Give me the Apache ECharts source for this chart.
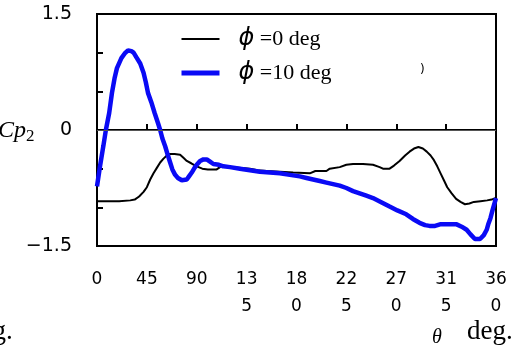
<!DOCTYPE html>
<html>
<head>
<meta charset="utf-8">
<script src="https://cdn.jsdelivr.net/npm/echarts@6/dist/echarts.min.js"></script>
<style>
  html, body { margin: 0; padding: 0; background: #fff; }
  #chart { width: 523px; height: 350px; }
</style>
</head>
<body>
<div id="chart"></div>
<script>
// phi = 0 deg
const theta0 = [0, 10, 20, 30, 34, 38, 42, 45, 48, 51, 54, 57, 60, 63, 66, 70, 75, 78, 81, 85, 90, 95, 100, 108, 111, 120, 130, 138, 145, 153, 165, 177, 192, 197, 207, 210, 219, 225, 231, 240, 249, 255, 258, 264, 268, 273, 278, 282, 286, 290, 294, 297.5, 301, 304, 307, 310, 313, 316, 320, 324, 328, 332, 336, 340, 346, 352, 356, 360];
const cp0 = [-0.92, -0.92, -0.92, -0.91, -0.90, -0.86, -0.80, -0.74, -0.64, -0.56, -0.49, -0.42, -0.37, -0.33, -0.31, -0.31, -0.32, -0.36, -0.40, -0.43, -0.47, -0.50, -0.51, -0.51, -0.48, -0.48, -0.49, -0.50, -0.52, -0.53, -0.54, -0.55, -0.56, -0.53, -0.53, -0.50, -0.48, -0.45, -0.44, -0.44, -0.45, -0.48, -0.50, -0.50, -0.46, -0.40, -0.33, -0.28, -0.24, -0.22, -0.24, -0.28, -0.33, -0.39, -0.47, -0.56, -0.65, -0.74, -0.82, -0.89, -0.93, -0.96, -0.95, -0.93, -0.92, -0.91, -0.90, -0.88];

// phi = 10 deg
const theta10 = [0, 2.7, 5.7, 8, 11, 13.5, 16, 18, 22, 25, 28, 31, 33, 36, 39, 42, 44, 46, 49, 52, 55, 57, 59, 61.5, 64, 66, 68, 70.5, 73, 76.5, 81, 83, 85.5, 88, 90, 93, 96, 99, 102, 105, 110, 114, 120, 129, 138, 147, 156, 165, 174, 183, 189, 195, 201, 207, 213, 219, 225, 231, 237, 243, 249, 256, 264, 271, 279, 285, 291, 296, 300, 305, 309.5, 317, 324.5, 329, 333.5, 337, 341, 345.6, 349, 351.6, 353, 355, 357, 360];
const cp10 = [-0.73, -0.47, -0.21, 0, 0.22, 0.48, 0.68, 0.80, 0.93, 0.99, 1.03, 1.02, 1.0, 0.93, 0.86, 0.74, 0.62, 0.48, 0.36, 0.22, 0.09, 0, -0.11, -0.21, -0.33, -0.42, -0.51, -0.58, -0.62, -0.65, -0.64, -0.60, -0.55, -0.49, -0.45, -0.40, -0.38, -0.38, -0.41, -0.44, -0.45, -0.47, -0.48, -0.50, -0.52, -0.54, -0.55, -0.56, -0.58, -0.60, -0.62, -0.64, -0.66, -0.68, -0.70, -0.72, -0.75, -0.79, -0.82, -0.85, -0.88, -0.93, -0.99, -1.04, -1.09, -1.15, -1.20, -1.23, -1.24, -1.24, -1.22, -1.22, -1.22, -1.25, -1.29, -1.35, -1.41, -1.41, -1.36, -1.29, -1.22, -1.14, -1.03, -0.88];

const xTickLabels = ["0", "45", "90", "13\n5", "18\n0", "22\n5", "27\n0", "31\n5", "36\n0"];
const yTickLabels = { "1.5": "1.5", "0": "0", "-1.5": "\u22121.5" };

const pair = (xs, ys) => xs.map((x, i) => [x, ys[i]]);
const serif = "'Liberation Serif', 'DejaVu Serif', serif";
const sans = "'DejaVu Sans', sans-serif";

const chart = echarts.init(document.getElementById("chart"), null, { renderer: "canvas" });

chart.setOption({
  animation: false,
  backgroundColor: "#fff",
  grid: {
    left: 97, right: 27, top: 14, bottom: 104,
    containLabel: false, outerBoundsMode: "none",
    show: true, borderColor: "#000", borderWidth: 2
  },
  legend: {
    orient: "vertical",
    left: 174, top: 22,
    itemWidth: 38, itemHeight: 12, itemGap: 10,
    itemStyle: { opacity: 0 },
    data: [
      { name: "phi0", lineStyle: { width: 2 } },
      { name: "phi10", lineStyle: { width: 5 } }
    ],
    formatter: (name) => name === "phi0" ? "{p|\u03d5}{t| =0 deg}" : "{p|\u03d5}{t| =10 deg}",
    textStyle: {
      rich: {
        p: { fontFamily: sans, fontStyle: "italic", fontSize: 24, color: "#000", padding: [0, 0, 0, 14] },
        t: { fontFamily: serif, fontSize: 22, color: "#000" }
      }
    }
  },
  xAxis: {
    type: "value",
    min: 0, max: 360, interval: 45,
    axisLine: { lineStyle: { color: "#000", width: 2 } },
    axisTick: { inside: true, length: 6, lineStyle: { color: "#000", width: 2 } },
    splitLine: { show: false },
    axisLabel: {
      color: "#000", fontFamily: sans, fontSize: 17, margin: 20, lineHeight: 27,
      formatter: (v) => xTickLabels[Math.round(v / 45)]
    }
  },
  yAxis: {
    type: "value",
    min: -1.5, max: 1.5, interval: 0.5,
    axisLine: { lineStyle: { color: "#000", width: 2 } },
    axisTick: { inside: true, length: 6, lineStyle: { color: "#000", width: 2 } },
    splitLine: { show: false },
    axisLabel: {
      color: "#000", fontFamily: sans, fontSize: 19, margin: 25,
      formatter: (v) => yTickLabels[String(v)] || ""
    }
  },
  graphic: [
    {
      type: "text", x: -2, y: 131,
      style: {
        text: "{c|Cp}{s|2}",
        verticalAlign: "middle",
        rich: {
          c: { fontFamily: serif, fontStyle: "italic", fontSize: 24, fill: "#000" },
          s: { fontFamily: serif, fontSize: 17, fill: "#000", verticalAlign: "bottom", padding: [12, 0, 0, 0] }
        }
      }
    },
    { type: "text", x: 432, y: 328, style: { text: "\u03b8", font: "italic 20px " + serif, fill: "#000" } },
    { type: "text", x: 467, y: 318, style: { text: "deg.", font: "27px " + serif, fill: "#000" } },
    { type: "text", x: -33, y: 318, style: { text: "deg.", font: "27px " + serif, fill: "#000" } },
    { type: "text", x: 420, y: 64, style: { text: ")", font: "12px " + sans, fill: "#000" } }
  ],
  series: [
    {
      name: "phi0",
      type: "line",
      data: pair(theta0, cp0),
      symbol: "none",
      lineStyle: { color: "#000", width: 2 },
      itemStyle: { color: "#000" },
      markLine: {
        silent: true, symbol: "none", label: { show: false },
        lineStyle: { color: "#555", width: 1, type: "solid" },
        data: [{ yAxis: 0 }]
      },
      z: 2
    },
    {
      name: "phi10",
      type: "line",
      data: pair(theta10, cp10),
      symbol: "none",
      lineStyle: { color: "#0a0af5", width: 4.5 },
      itemStyle: { color: "#0a0af5" },
      z: 3
    }
  ]
});
</script>
</body>
</html>
